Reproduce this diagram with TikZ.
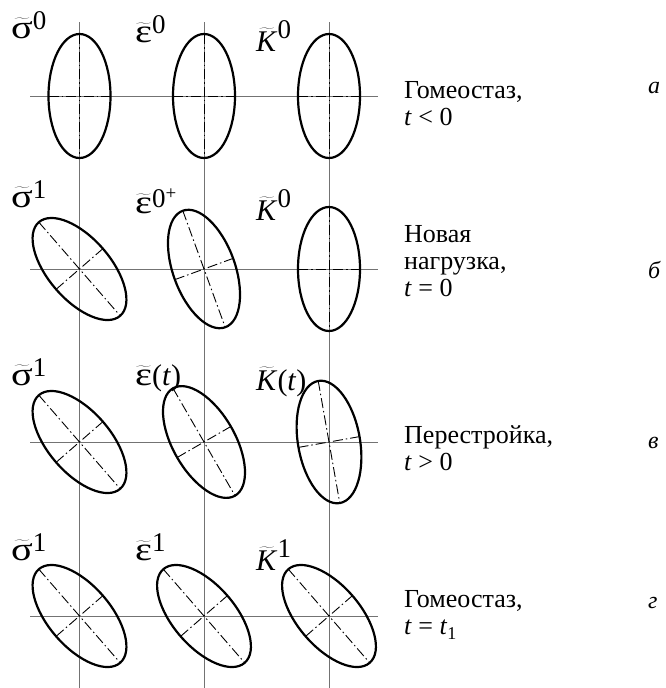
\documentclass[tikz,border=0pt]{standalone}
\usepackage{fontspec}
\setmainfont{Liberation Serif}
\newcommand\gfont{\fontsize{33}{33}\selectfont}
\newcommand\kfont{\fontsize{30}{30}\selectfont}
\newcommand\supfont{\fontsize{27}{27}\selectfont}
\newcommand\gk[1]{\scalebox{1.22}[1]{#1}}
\newcommand\tld[1]{$\widetilde{\hbox{#1}}$}
\newcommand\upsc[2][9pt]{\raisebox{#1}{\supfont #2}}
\newcommand\axell[3]{%
  \begin{scope}[shift={(#1,#2)},rotate=#3]
    \draw[ell] (0,0) ellipse [x radius=31, y radius=62];
    \draw[axisdd] (0,-62) -- (0,62);
    \draw[axisdd] (-31,0) -- (31,0);
  \end{scope}}
\begin{document}
\begin{tikzpicture}[x=1pt,y=-1pt,
  guide/.style={draw=black!55, line width=0.9pt},
  ell/.style={draw=black, line width=2.2pt},
  axisdd/.style={draw=black, line width=0.9pt, dash pattern=on 10pt off 3pt on 1.5pt off 3pt},
  lbl/.style={inner sep=0pt, anchor=base west},
  stxt/.style={inner sep=0pt, anchor=north west, align=left, font=\fontsize{26}{27}\selectfont},
  tag/.style={inner sep=0pt, anchor=base west, font=\fontsize{24}{24}\selectfont\itshape}]
\useasboundingbox (0,0) rectangle (665,688);
% guide lines
\foreach \x/\n in {79.5/1,204/2,329/3}{
  \coordinate (vt\n) at (\x,22);
  \coordinate (vb\n) at (\x,688);
  \draw[guide] (vt\n) -- (vb\n);
}
\foreach \y/\n in {96/1,269/2,442/3,616/4}{
  \coordinate (hl\n) at (30,\y);
  \coordinate (hr\n) at (378,\y);
  \draw[guide] (hl\n) -- (hr\n);
}
% row a
\axell{79.5}{96}{0}
\axell{204}{96}{0}
\axell{329}{96}{0}
% row b
\axell{79.5}{269}{41}
\axell{204}{269}{20}
\axell{329}{269}{0}
% row v
\axell{79.5}{442}{41}
\axell{204}{442}{30}
\axell{329}{442}{10}
% row g
\axell{79.5}{616}{41}
\axell{204}{616}{41}
\axell{329}{616}{41}
% labels
\node[lbl] (s1) at (11,38) {\gfont\tld{\gk{σ}}\upsc{0}};
\node[lbl] (e1) at (135,42) {\gfont\tld{\gk{ε}}\upsc{0}};
\node[lbl] (k1) at (256,51) {\kfont\tld{\textit{K}}\upsc[13pt]{0}};
\node[lbl] (s2) at (11,207) {\gfont\tld{\gk{σ}}\upsc{1}};
\node[lbl] (e2) at (135,213) {\gfont\tld{\gk{ε}}\upsc[6pt]{0\raisebox{8pt}{\fontsize{19}{19}\selectfont+}}};
\node[lbl] (k2) at (256,220) {\kfont\tld{\textit{K}}\upsc[13pt]{0}};
\node[lbl] (s3) at (11,385) {\gfont\tld{\gk{σ}}\upsc{1}};
\node[lbl] (e3) at (135,385) {\gfont\tld{\gk{ε}}\kfont(\textit{t})};
\node[lbl] (k3) at (256,390) {\kfont\tld{\textit{K}}(\textit{t})};
\node[lbl] (s4) at (11,560) {\gfont\tld{\gk{σ}}\upsc{1}};
\node[lbl] (e4) at (135,560) {\gfont\tld{\gk{ε}}\upsc{1}};
\node[lbl] (k4) at (256,570) {\kfont\tld{\textit{K}}\upsc[13pt]{1}};
% side texts
\node[stxt] (t1) at (404,81) {Гомеостаз,\\\textit{t} < 0};
\node[stxt] (t2) at (404,225) {Новая\\нагрузка,\\\textit{t} = 0};
\node[stxt] (t3) at (404,425) {Перестройка,\\\textit{t} > 0};
\node[stxt] (t4) at (404,590) {Гомеостаз,\\\textit{t} = \textit{t}\raisebox{-5pt}{\fontsize{18}{18}\selectfont 1}};
% tags
\node[tag] (ta) at (648,93) {а};
\node[tag] (tb) at (648,278) {б};
\node[tag] (tv) at (648,448) {в};
\node[tag] (tg) at (648,608) {г};
\end{tikzpicture}
\end{document}
